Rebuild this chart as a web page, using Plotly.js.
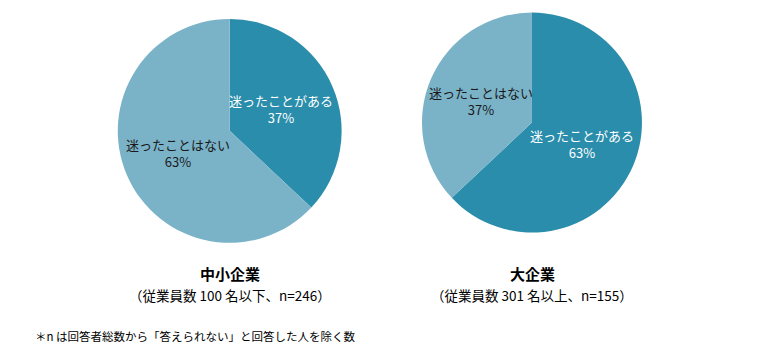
<!DOCTYPE html>
<html>
<head>
<meta charset="utf-8">
<script src="https://cdn.plot.ly/plotly-3.0.1.min.js"></script>
<style>html,body{margin:0;padding:0;background:#fff;}#chart{width:780px;height:362px;}</style>
</head>
<body>
<div id="chart"></div>
<script>
const categories = ["迷ったことがある", "迷ったことはない"];
const smeValues = [37, 63];
const largeValues = [63, 37];
const groupTitles = ["中小企業", "大企業"];
const groupSubtitles = ["（従業員数 100 名以下、n=246）", "（従業員数 301 名以上、n=155）"];
const footnote = "＊n は回答者総数から「答えられない」と回答した人を除く数";

const W = 780, H = 362;
const font = "Noto Sans CJK JP, Meiryo, sans-serif";
const sliceColors = ["#2a8dab", "#7ab2c8"];
const textColors = ["#ffffff", "#1a1a1a"];
const domains = [
  { x: [0.151, 0.438], y: [0.329, 0.948] },
  { x: [0.541, 0.823], y: [0.356, 0.967] }
];
const seriesList = [smeValues, largeValues];

const traces = seriesList.map((vals, k) => ({
  type: "pie", values: vals, labels: categories,
  textinfo: "none", hoverinfo: "label+percent", sort: false, direction: "clockwise", rotation: 0,
  marker: { colors: sliceColors, line: { width: 0 } },
  domain: domains[k], showlegend: false
}));

const annotations = [];
// slice labels placed at the mid-angle of each slice, half-way out along the radius
seriesList.forEach((vals, k) => {
  const d = domains[k];
  const cx = (d.x[0] + d.x[1]) / 2 * W;
  const cy = (1 - (d.y[0] + d.y[1]) / 2) * H;
  const r = Math.min((d.x[1] - d.x[0]) * W, (d.y[1] - d.y[0]) * H) / 2;
  const total = vals.reduce((a, b) => a + b, 0);
  let cum = 0;
  vals.forEach((v, i) => {
    const mid = (cum + v / 2) / total * 2 * Math.PI;
    cum += v;
    const px = cx + 0.5 * r * Math.sin(mid);
    const py = cy - 0.5 * r * Math.cos(mid);
    annotations.push({
      text: categories[i] + "<br>" + v + "%", x: px / W, y: 1 - py / H, xref: "paper", yref: "paper",
      showarrow: false, xanchor: "center", yanchor: "middle", align: "center",
      font: { family: font, size: 13, color: textColors[i] }
    });
  });
});

const centersX = [230 / W, 532 / W];
groupTitles.forEach((t, i) => {
  annotations.push({ text: "<b>" + t + "</b>", x: centersX[i], y: 1 - 273 / H, xref: "paper", yref: "paper",
    showarrow: false, xanchor: "center", yanchor: "middle", font: { family: font, size: 15, color: "#000" } });
  annotations.push({ text: groupSubtitles[i], x: centersX[i], y: 1 - 295 / H, xref: "paper", yref: "paper",
    showarrow: false, xanchor: "center", yanchor: "middle", font: { family: font, size: 13.5, color: "#000" } });
});
annotations.push({ text: footnote, x: 33 / W, y: 1 - 336 / H, xref: "paper", yref: "paper",
  showarrow: false, xanchor: "left", yanchor: "middle", font: { family: font, size: 11.5, color: "#000" } });

const layout = {
  width: W, height: H, margin: { l: 0, r: 0, t: 0, b: 0 },
  paper_bgcolor: "#fff", plot_bgcolor: "#fff",
  annotations: annotations, showlegend: false
};

Plotly.newPlot("chart", traces, layout, { displayModeBar: false, staticPlot: true });
</script>
</body>
</html>
